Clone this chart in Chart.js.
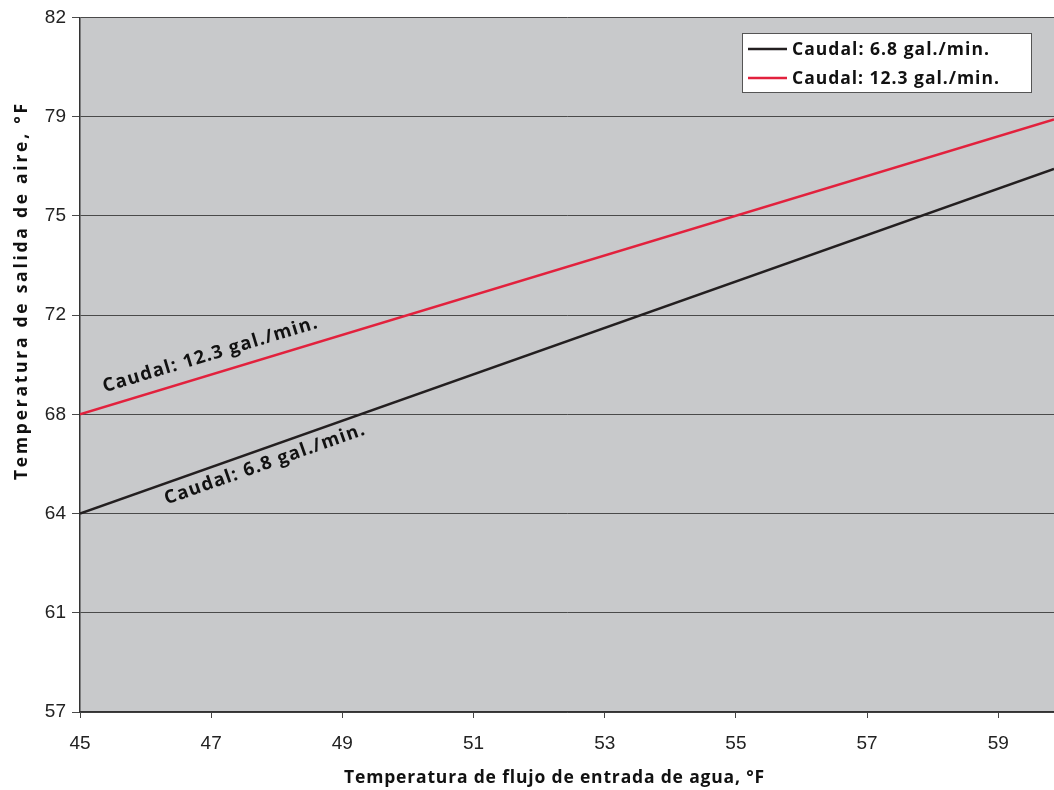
<!DOCTYPE html>
<html>
<head>
<meta charset="utf-8">
<script src="https://cdn.jsdelivr.net/npm/chart.js@4.4.1/dist/chart.umd.min.js"></script>
<style>
  html, body { margin: 0; padding: 0; background: #ffffff; }
  #wrap { width: 1054px; height: 790px; position: relative; }
</style>
</head>
<body>
<div id="wrap"><canvas id="c"></canvas></div>
<script>
// ---- Data ----
const inletTempF = [45, 59.85];                  // x: water inlet temperature, °F
const outletFlow68 = [64.4, 76.9];               // y: air outlet temp, flow 6.8 gal/min
const outletFlow123 = [68.0, 78.7];              // y: air outlet temp, flow 12.3 gal/min
const seriesLabels = ['Caudal: 6.8 gal./min.', 'Caudal: 12.3 gal./min.'];
const xTickValues = [45, 47, 49, 51, 53, 55, 57, 59];
const yTickValues = [57.2, 60.8, 64.4, 68.0, 71.6, 75.2, 78.8, 82.4];
const yTickLabels = ['57', '61', '64', '68', '72', '75', '79', '82'];
const xTitle = 'Temperatura de flujo de entrada de agua, °F';
const yTitle = 'Temperatura de salida de aire, °F';

const COL_BLACK = '#231f20';
const COL_RED = '#e2213d';
const TITLE_FONT = "bold 17.5px 'Open Sans', sans-serif";

function toPoints(xs, ys) { return xs.map((x, i) => ({ x: x, y: ys[i] })); }

function fitText(ctx, text, x, y, width) {
  ctx.save();
  ctx.letterSpacing = '0px';
  const w0 = ctx.measureText(text).width;
  const ls = (width - w0) / Math.max(1, text.length - 1);
  if ('letterSpacing' in ctx) {
    ctx.letterSpacing = ls.toFixed(2) + 'px';
    ctx.fillText(text, x, y);
  } else {
    ctx.translate(x, y);
    ctx.scale(width / w0, 1);
    ctx.fillText(text, 0, 0);
  }
  ctx.restore();
}

const bgPlugin = {
  id: 'plotBg',
  beforeDraw(chart) {
    const { ctx, chartArea: a } = chart;
    ctx.save();
    ctx.fillStyle = '#c8c9cb';
    ctx.fillRect(a.left, a.top, a.right - a.left, a.bottom - a.top);
    ctx.restore();
  }
};

const decoPlugin = {
  id: 'deco',
  afterDraw(chart, args, opts) {
    const ctx = chart.ctx;
    const xs = chart.scales.x, ys = chart.scales.y;
    // axis titles
    ctx.save();
    ctx.fillStyle = '#111';
    ctx.font = TITLE_FONT;
    ctx.textBaseline = 'alphabetic';
    ctx.textAlign = 'left';
    fitText(ctx, xTitle, 555 - 211, 783, 420);
    ctx.translate(27, 292);
    ctx.rotate(-Math.PI / 2);
    fitText(ctx, yTitle, -188, 0, 376);
    ctx.restore();

    // inline labels along the lines
    chart.data.datasets.forEach((ds, i) => {
      const lab = opts.lineLabels[i];
      const p0 = { x: xs.getPixelForValue(ds.data[0].x), y: ys.getPixelForValue(ds.data[0].y) };
      const p1 = { x: xs.getPixelForValue(ds.data[1].x), y: ys.getPixelForValue(ds.data[1].y) };
      const ang = Math.atan2(p1.y - p0.y, p1.x - p0.x);
      const t = (lab.at - ds.data[0].x) / (ds.data[1].x - ds.data[0].x);
      const lx = p0.x + t * (p1.x - p0.x);
      const ly = p0.y + t * (p1.y - p0.y);
      ctx.save();
      ctx.translate(lx, ly);
      ctx.rotate(ang);
      ctx.fillStyle = '#111';
      ctx.font = "bold 18.5px 'Open Sans', sans-serif";
      ctx.textAlign = 'left';
      ctx.textBaseline = 'alphabetic';
      fitText(ctx, ds.label, 0, lab.offset, lab.width);
      ctx.restore();
    });

    // legend box
    const L = opts.legend;
    ctx.save();
    ctx.fillStyle = '#ffffff';
    ctx.fillRect(L.left, L.top, L.w, L.h);
    ctx.strokeStyle = '#555';
    ctx.lineWidth = 1;
    ctx.strokeRect(L.left + 0.5, L.top + 0.5, L.w - 1, L.h - 1);
    chart.data.datasets.forEach((ds, i) => {
      const y = L.top + 16 + i * 29;
      ctx.strokeStyle = ds.borderColor;
      ctx.lineWidth = 2.5;
      ctx.beginPath();
      ctx.moveTo(L.left + 6, y);
      ctx.lineTo(L.left + 45, y);
      ctx.stroke();
      ctx.fillStyle = '#111';
      ctx.font = "bold 17.5px 'Open Sans', sans-serif";
      ctx.textAlign = 'left';
      ctx.textBaseline = 'middle';
      fitText(ctx, ds.label, L.left + 50, y + 1, L.textW[i]);
    });
    ctx.restore();
  }
};

new Chart(document.getElementById('c'), {
  type: 'line',
  data: {
    datasets: [
      { label: seriesLabels[0], data: toPoints(inletTempF, outletFlow68), borderColor: COL_BLACK,
        borderWidth: 2.5, pointRadius: 0, tension: 0, fill: false },
      { label: seriesLabels[1], data: toPoints(inletTempF, outletFlow123), borderColor: COL_RED,
        borderWidth: 2.5, pointRadius: 0, tension: 0, fill: false }
    ]
  },
  options: {
    responsive: true,
    maintainAspectRatio: false,
    animation: false,
    layout: { padding: { top: 17, right: 0, left: 0, bottom: 0 } },
    plugins: {
      legend: { display: false },
      tooltip: { enabled: false },
      deco: {
        lineLabels: [
          { at: 46.22, offset: 20.5, width: 211 },
          { at: 45.44, offset: -13.8, width: 223 }
        ],
        legend: { left: 742, top: 33, w: 290, h: 60, textW: [197, 207] }
      }
    },
    scales: {
      x: {
        type: 'linear',
        min: 45,
        max: 59.85,
        afterBuildTicks(s) { s.ticks = xTickValues.map(v => ({ value: v })); },
        afterFit(s) { s.height = 78; },
        grid: { drawOnChartArea: false, drawTicks: true, tickLength: 6, color: '#444', lineWidth: 1 },
        border: { display: true, color: '#333', width: 1.5 },
        ticks: {
          padding: 14,
          color: '#222',
          font: { family: "'Liberation Sans', Arial, sans-serif", size: 19 },
          maxRotation: 0,
          callback: (v) => String(v)
        }
      },
      y: {
        type: 'linear',
        min: 57.2,
        max: 82.4,
        afterBuildTicks(s) { s.ticks = yTickValues.map(v => ({ value: v })); },
        afterFit(s) { s.width = 80; },
        grid: { drawOnChartArea: true, drawTicks: true, tickLength: 8, color: '#4a4a4a', lineWidth: 1 },
        border: { display: true, color: '#333', width: 1.5 },
        ticks: {
          padding: 6,
          color: '#222',
          font: { family: "'Liberation Sans', Arial, sans-serif", size: 19 },
          callback: (v, i) => yTickLabels[i]
        }
      }
    }
  },
  plugins: [bgPlugin, decoPlugin]
});
</script>
</body>
</html>
